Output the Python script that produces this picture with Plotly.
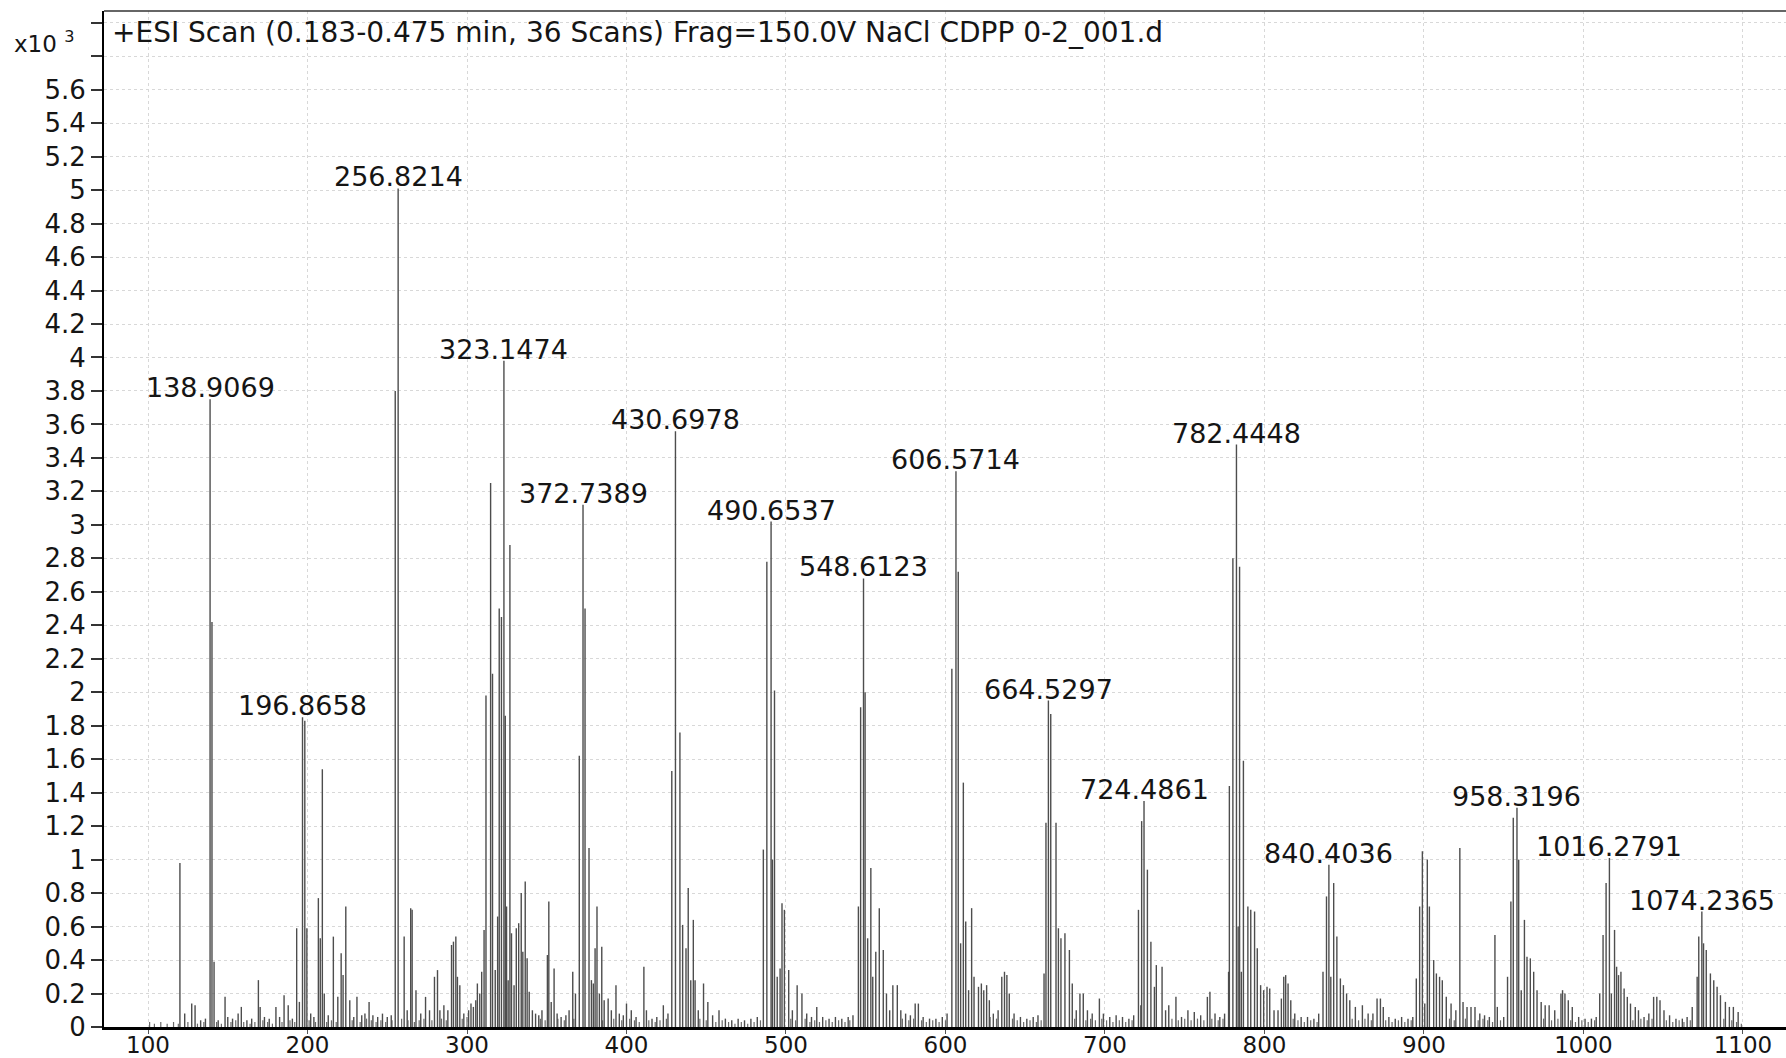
import plotly.graph_objects as go

# Centroided ESI mass spectrum, intensities in units of 10^3 counts
# (m/z, intensity) pairs grouped by m/z region
peaks_100_300 = [
    (120.0, 0.98), (123.0, 0.08), (127.4, 0.14), (129.5, 0.13), (133.0, 0.04), (136.0, 0.05),
    (138.9069, 3.75), (140.1, 2.42), (141.4, 0.39), (144.0, 0.04), (148.3, 0.18), (150.0, 0.06),
    (153.0, 0.05), (156.5, 0.08), (158.5, 0.12), (162.0, 0.04), (165.0, 0.05), (169.2, 0.28),
    (170.3, 0.12), (173.0, 0.06), (176.0, 0.05), (180.2, 0.12), (182.5, 0.06), (185.3, 0.19),
    (187.9, 0.13), (190.5, 0.05), (193.2, 0.59), (194.9, 0.15), (196.8658, 1.85), (198.3, 1.83),
    (199.6, 0.59), (202.0, 0.08), (204.0, 0.06), (206.8, 0.77), (208.0, 0.53), (209.3, 1.54),
    (210.5, 0.20), (213.0, 0.07), (216.2, 0.54), (219.0, 0.18), (221.1, 0.44), (222.3, 0.31),
    (224.0, 0.72), (226.5, 0.16), (229.0, 0.06), (231.0, 0.18), (234.0, 0.07), (236.0, 0.08),
    (238.6, 0.15), (241.0, 0.07), (244.0, 0.06), (247.0, 0.08), (250.0, 0.06), (252.5, 0.07),
    (255.0, 3.80), (256.8214, 5.01), (260.6, 0.54), (262.5, 0.10), (264.7, 0.71), (265.6, 0.70),
    (268.0, 0.22), (271.0, 0.08), (274.0, 0.18), (276.5, 0.10), (279.6, 0.30), (281.5, 0.34),
    (283.0, 0.10), (285.5, 0.13), (288.0, 0.10), (290.3, 0.49), (291.5, 0.51), (293.0, 0.54),
    (294.0, 0.30), (295.5, 0.25), (298.0, 0.08),
]

peaks_300_500 = [
    (301.0, 0.10), (302.5, 0.14), (304.0, 0.12), (305.5, 0.16), (306.5, 0.26), (308.0, 0.20),
    (309.2, 0.33), (310.7, 0.58), (311.9, 1.98), (314.8, 3.25), (316.0, 2.11), (317.7, 0.34),
    (319.2, 0.66), (320.2, 2.50), (321.6, 2.45), (323.1474, 3.98), (324.0, 1.86), (324.8, 0.72),
    (325.8, 0.28), (326.9, 2.88), (327.9, 0.56), (329.5, 0.25), (330.9, 0.59), (332.4, 0.62),
    (334.0, 0.80), (335.0, 0.45), (336.5, 0.87), (337.7, 0.41), (339.0, 0.21), (341.0, 0.10),
    (343.0, 0.08), (345.0, 0.07), (347.0, 0.10), (350.4, 0.43), (351.3, 0.75), (352.8, 0.15),
    (354.6, 0.35), (356.5, 0.08), (359.0, 0.06), (362.0, 0.07), (364.0, 0.10), (366.3, 0.33),
    (368.0, 0.20), (370.4, 1.62), (372.7389, 3.12), (374.0, 2.50), (376.5, 1.07), (378.0, 0.28),
    (379.2, 0.26), (380.3, 0.47), (381.5, 0.72), (383.0, 0.20), (384.5, 0.48), (386.0, 0.16),
    (388.5, 0.17), (390.5, 0.10), (393.4, 0.25), (395.5, 0.08), (398.0, 0.07), (400.0, 0.14),
    (403.0, 0.10), (406.0, 0.06), (410.9, 0.36), (412.5, 0.10), (416.0, 0.05), (419.0, 0.06),
    (423.1, 0.13), (426.0, 0.08), (428.4, 1.53), (430.6978, 3.56), (433.5, 1.76), (435.2, 0.61),
    (437.3, 0.47), (438.7, 0.83), (440.3, 0.28), (441.9, 0.64), (443.0, 0.28), (445.0, 0.10),
    (448.3, 0.26), (451.0, 0.15), (454.0, 0.07), (458.0, 0.10), (462.0, 0.05), (466.0, 0.04),
    (470.0, 0.05), (474.0, 0.04), (478.0, 0.05), (482.0, 0.06), (485.8, 1.06), (488.0, 2.78),
    (490.6537, 3.02), (491.5, 1.00), (492.8, 2.01), (494.5, 0.30), (496.3, 0.35), (497.5, 0.74),
    (499.0, 0.70),
]

peaks_500_700 = [
    (501.7, 0.34), (504.0, 0.10), (507.0, 0.25), (510.0, 0.20), (513.0, 0.08), (516.0, 0.06),
    (519.3, 0.12), (523.0, 0.06), (527.0, 0.05), (531.0, 0.06), (535.0, 0.05), (539.0, 0.06),
    (542.0, 0.07), (545.4, 0.72), (546.8, 1.91), (548.6123, 2.68), (549.6, 2.00), (551.2, 0.53),
    (553.2, 0.95), (554.4, 0.30), (556.3, 0.45), (558.5, 0.71), (561.0, 0.46), (563.0, 0.20),
    (565.0, 0.10), (567.0, 0.25), (569.8, 0.25), (572.0, 0.10), (575.0, 0.08), (578.0, 0.07),
    (581.0, 0.14), (583.0, 0.14), (586.0, 0.06), (590.0, 0.05), (594.0, 0.05), (598.0, 0.06),
    (601.0, 0.08), (604.0, 2.14), (606.5714, 3.32), (608.0, 2.72), (609.5, 0.50), (611.2, 1.46),
    (612.7, 0.63), (614.5, 0.22), (616.4, 0.71), (617.9, 0.30), (620.7, 0.24), (622.5, 0.26),
    (624.0, 0.22), (625.8, 0.25), (627.5, 0.16), (630.0, 0.08), (633.0, 0.10), (635.3, 0.30),
    (637.0, 0.33), (638.5, 0.31), (640.0, 0.20), (643.0, 0.08), (647.0, 0.06), (651.0, 0.05),
    (655.0, 0.06), (658.0, 0.07), (661.8, 0.32), (663.0, 1.22), (664.5297, 1.95), (666.0, 1.87),
    (669.3, 1.22), (670.8, 0.59), (672.4, 0.53), (674.9, 0.56), (677.7, 0.46), (679.5, 0.26),
    (682.0, 0.10), (684.3, 0.20), (686.4, 0.20), (689.0, 0.10), (692.0, 0.08), (696.5, 0.17),
    (699.0, 0.08),
]

peaks_700_900 = [
    (703.0, 0.06), (707.0, 0.07), (711.0, 0.06), (715.0, 0.05), (718.0, 0.07), (721.0, 0.70),
    (722.5, 0.13), (723.0, 1.23), (724.4861, 1.35), (726.6, 0.94), (728.8, 0.51), (731.0, 0.24),
    (732.2, 0.37), (735.8, 0.36), (738.0, 0.10), (740.0, 0.13), (744.5, 0.18), (748.0, 0.06),
    (752.0, 0.10), (756.0, 0.09), (760.0, 0.07), (764.2, 0.18), (765.8, 0.21), (769.0, 0.08),
    (772.0, 0.06), (775.0, 0.08), (777.5, 0.33), (778.0, 1.44), (780.2, 2.80), (782.4448, 3.48),
    (783.5, 0.60), (784.4, 2.75), (785.5, 0.33), (786.8, 1.59), (789.6, 0.72), (791.4, 0.70),
    (793.8, 0.69), (795.5, 0.47), (797.6, 0.25), (799.5, 0.22), (801.6, 0.24), (803.3, 0.23),
    (806.0, 0.10), (808.5, 0.10), (810.6, 0.17), (812.1, 0.30), (813.3, 0.31), (814.8, 0.26),
    (816.5, 0.16), (819.0, 0.08), (823.0, 0.06), (827.0, 0.06), (831.0, 0.05), (834.0, 0.08),
    (836.7, 0.33), (838.9, 0.78), (840.4036, 0.97), (841.6, 0.30), (843.4, 0.86), (845.4, 0.54),
    (847.6, 0.29), (849.5, 0.25), (851.5, 0.20), (853.5, 0.16), (857.0, 0.12), (861.4, 0.13),
    (865.0, 0.08), (868.0, 0.08), (870.6, 0.17), (872.7, 0.17), (874.5, 0.12), (878.0, 0.06),
    (882.0, 0.05), (886.0, 0.06), (890.0, 0.05), (893.0, 0.06), (895.2, 0.29), (897.3, 0.72),
    (899.0, 1.05),
]

peaks_900_1100 = [
    (900.5, 0.14), (902.1, 1.00), (903.4, 0.72), (906.1, 0.40), (907.8, 0.32), (909.8, 0.30),
    (911.5, 0.28), (914.0, 0.18), (917.0, 0.14), (920.0, 0.10), (922.5, 1.07), (924.5, 0.15),
    (927.0, 0.12), (929.5, 0.12), (932.0, 0.12), (935.0, 0.08), (938.0, 0.07), (941.0, 0.06),
    (944.5, 0.55), (946.0, 0.12), (950.0, 0.06), (952.4, 0.30), (954.5, 0.75), (956.0, 1.25),
    (958.3196, 1.31), (959.4, 1.00), (961.0, 0.22), (963.0, 0.64), (964.6, 0.42), (966.7, 0.41),
    (968.8, 0.33), (970.9, 0.22), (973.5, 0.15), (976.0, 0.13), (978.5, 0.13), (982.0, 0.10),
    (985.9, 0.20), (986.9, 0.22), (988.4, 0.20), (990.5, 0.16), (993.0, 0.12), (997.0, 0.06),
    (1001.0, 0.05), (1005.0, 0.05), (1008.0, 0.06), (1010.2, 0.20), (1012.3, 0.55), (1014.2, 0.86),
    (1016.2791, 1.01), (1017.5, 0.20), (1019.5, 0.58), (1020.8, 0.36), (1022.0, 0.31), (1023.5, 0.33),
    (1025.5, 0.23), (1027.5, 0.18), (1029.5, 0.14), (1032.5, 0.12), (1034.5, 0.10), (1038.0, 0.06),
    (1041.0, 0.08), (1044.0, 0.18), (1046.0, 0.18), (1048.0, 0.16), (1050.5, 0.10), (1054.0, 0.07),
    (1058.0, 0.05), (1062.0, 0.05), (1065.0, 0.06), (1068.2, 0.12), (1071.3, 0.30), (1072.3, 0.54),
    (1074.2365, 0.69), (1075.3, 0.50), (1077.0, 0.46), (1079.6, 0.32), (1081.7, 0.28), (1083.8, 0.24),
    (1085.9, 0.19), (1089.0, 0.15), (1091.5, 0.12), (1094.0, 0.12), (1097.0, 0.09),
]

# low-level baseline signal
baseline = [
    (101, 0.03), (104, 0.02), (108, 0.03), (112, 0.02), (116, 0.03), (119, 0.02), (125, 0.03),
    (131, 0.02), (135, 0.03), (143, 0.03), (146, 0.02), (152, 0.03), (155, 0.04), (160, 0.03),
    (164, 0.02), (167, 0.03), (172, 0.04), (175, 0.03), (178, 0.02), (184, 0.03), (189, 0.04),
    (192, 0.03), (201, 0.04), (205, 0.03), (212, 0.03), (215, 0.04), (218, 0.03), (228, 0.04),
    (233, 0.03), (237, 0.05), (240, 0.04), (243, 0.03), (246, 0.04), (249, 0.03), (253, 0.04),
    (259, 0.05), (263, 0.04), (267, 0.03), (270, 0.04), (273, 0.05), (278, 0.04), (284, 0.05),
    (287, 0.04), (297, 0.05), (300, 0.06), (346, 0.05), (349, 0.04), (357, 0.05), (361, 0.04),
    (367, 0.05), (385, 0.04), (392, 0.05), (397, 0.04), (402, 0.05), (405, 0.04), (408, 0.03),
    (414, 0.04), (418, 0.03), (421, 0.04), (425, 0.05), (446, 0.05), (450, 0.04), (456, 0.03),
    (460, 0.04), (464, 0.03), (468, 0.02), (472, 0.03), (476, 0.02), (480, 0.03), (484, 0.04),
    (503, 0.05), (506, 0.04), (512, 0.05), (515, 0.03), (518, 0.04), (521, 0.03), (525, 0.04),
    (529, 0.03), (533, 0.04), (537, 0.03), (540, 0.04), (573, 0.05), (577, 0.04), (580, 0.05),
    (585, 0.04), (588, 0.03), (592, 0.04), (596, 0.03), (600, 0.04), (628, 0.06), (632, 0.05),
    (642, 0.05), (645, 0.04), (649, 0.03), (653, 0.04), (657, 0.03), (660, 0.04), (681, 0.05),
    (688, 0.04), (691, 0.05), (694, 0.04), (698, 0.05), (701, 0.04), (705, 0.03), (709, 0.04),
    (713, 0.03), (717, 0.04), (742, 0.05), (746, 0.04), (750, 0.05), (754, 0.04), (758, 0.05),
    (762, 0.04), (767, 0.05), (771, 0.04), (774, 0.05), (818, 0.05), (821, 0.04), (825, 0.03),
    (829, 0.04), (833, 0.03), (855, 0.05), (859, 0.04), (863, 0.05), (867, 0.04), (876, 0.04),
    (880, 0.03), (884, 0.04), (888, 0.03), (892, 0.04), (916, 0.05), (919, 0.04), (926, 0.05),
    (934, 0.04), (937, 0.05), (940, 0.04), (943, 0.03), (948, 0.04), (975, 0.05), (980, 0.04),
    (984, 0.05), (992, 0.04), (995, 0.03), (999, 0.04), (1003, 0.03), (1007, 0.04), (1031, 0.04),
    (1036, 0.05), (1040, 0.04), (1043, 0.05), (1052, 0.04), (1056, 0.03), (1060, 0.04),
    (1063, 0.03), (1067, 0.04), (1088, 0.05), (1093, 0.04), (1096, 0.03), (1099, 0.02),
]

# peaks annotated with their m/z value
labelled_mz = [138.9069, 196.8658, 256.8214, 323.1474, 372.7389, 430.6978, 490.6537,
               548.6123, 606.5714, 664.5297, 724.4861, 782.4448, 840.4036, 958.3196,
               1016.2791, 1074.2365]

x_ticks = [100, 200, 300, 400, 500, 600, 700, 800, 900, 1000, 1100]
# labelled intensity ticks (an unlabelled minor tick/grid line also sits at 5.8)
y_ticks = [0, 0.2, 0.4, 0.6, 0.8, 1, 1.2, 1.4, 1.6, 1.8, 2, 2.2, 2.4, 2.6, 2.8, 3,
           3.2, 3.4, 3.6, 3.8, 4, 4.2, 4.4, 4.6, 4.8, 5, 5.2, 5.4, 5.6]
y_tick_text = ["0", "0.2", "0.4", "0.6", "0.8", "1", "1.2", "1.4", "1.6", "1.8", "2",
               "2.2", "2.4", "2.6", "2.8", "3", "3.2", "3.4", "3.6", "3.8", "4", "4.2",
               "4.4", "4.6", "4.8", "5", "5.2", "5.4", "5.6"]

title_text = "+ESI Scan (0.183-0.475 min, 36 Scans) Frag=150.0V NaCl CDPP 0-2_001.d"

FONT = "DejaVu Sans, Verdana, sans-serif"
INK = "#151515"
GRID = "#d8d8d8"

all_peaks = peaks_100_300 + peaks_300_500 + peaks_500_700 + peaks_700_900 + peaks_900_1100
intensity_of = {mz: h for mz, h in all_peaks}


def sticks(pairs):
    xs, ys = [], []
    for mz, h in pairs:
        xs += [mz, mz, None]
        ys += [0, h, None]
    return xs, ys


fig = go.Figure()

bx, by = sticks(baseline)
fig.add_trace(go.Scatter(x=bx, y=by, mode="lines", hoverinfo="skip",
                         line=dict(color="#6a6a6a", width=1.2), showlegend=False))

px_, py_ = sticks(all_peaks)
fig.add_trace(go.Scatter(x=px_, y=py_, mode="lines",
                         line=dict(color="#4d4d4d", width=1.4), showlegend=False))

for mz in labelled_mz:
    fig.add_annotation(x=mz, y=intensity_of[mz], text=f"{mz:.4f}", showarrow=False,
                       xanchor="center", yanchor="bottom", yshift=-6,
                       font=dict(family=FONT, size=27, color=INK))

fig.add_annotation(xref="paper", yref="paper", x=0, y=1, xanchor="left", yanchor="top",
                   xshift=6, yshift=-3, text=title_text, showarrow=False,
                   font=dict(family=FONT, size=28, color=INK))

fig.add_annotation(xref="paper", yref="paper", x=-0.0545, y=0.969, xanchor="left",
                   yanchor="middle", text="x10 <sup>3</sup>", showarrow=False,
                   font=dict(family=FONT, size=23, color=INK))

# thin frame line across the top of the plot area
fig.add_shape(type="line", xref="paper", yref="paper", x0=0, x1=1, y0=1, y1=1,
              line=dict(color="#333333", width=1.5))

fig.update_layout(
    width=1786, height=1058,
    margin=dict(l=104, r=0, t=11, b=31),
    paper_bgcolor="white", plot_bgcolor="white",
    font=dict(family=FONT, size=23, color=INK),
    xaxis=dict(range=[72.4, 1127], tickvals=x_ticks, showgrid=True, automargin=False,
               gridcolor=GRID, griddash="dot", gridwidth=1,
               showline=True, linecolor="black", linewidth=3,
               ticks="outside", ticklen=4, tickcolor="#555555", tickwidth=1,
               ticklabelstandoff=-9,
               zeroline=False, tickfont=dict(size=23)),
    yaxis=dict(range=[0, 6.07], tickvals=y_ticks, ticktext=y_tick_text, showgrid=True,
               automargin=False,
               gridcolor=GRID, griddash="dot", gridwidth=1,
               showline=True, linecolor="black", linewidth=2,
               ticks="outside", ticklen=11, tickcolor="#333333", tickwidth=1.5,
               minor=dict(tick0=0, dtick=0.2, ticks="outside", ticklen=11,
                          tickcolor="#333333", tickwidth=1.5, showgrid=True,
                          gridcolor=GRID, griddash="dot", gridwidth=1),
               zeroline=False, tickfont=dict(size=26)),
)

fig.write_html("out.html")
